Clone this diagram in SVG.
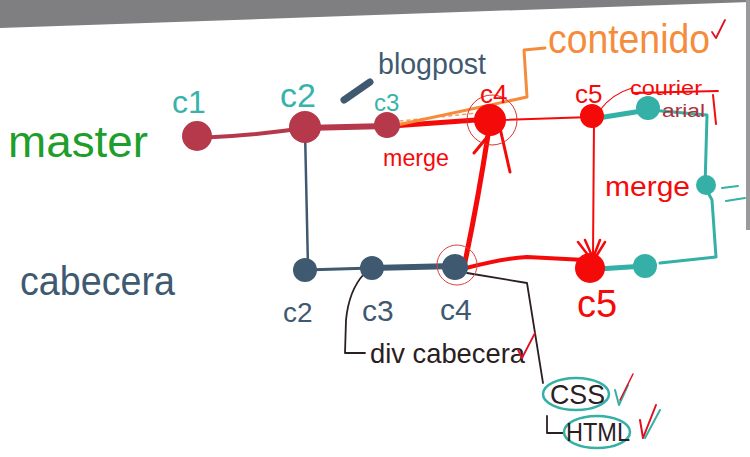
<svg xmlns="http://www.w3.org/2000/svg" width="750" height="457" viewBox="0 0 750 457">
<defs>
<style>
text{font-family:"Liberation Sans","DejaVu Sans",sans-serif}
.red{fill:#f50a0a}.teal{fill:#35b0a6}.slate{fill:#3f5a70}.maroon{fill:#b5394a}.ink{fill:#2a2022}
.lt{fill:#38b3aa}
.ln{fill:none;stroke-linecap:round;stroke-linejoin:round}
</style>
</defs>
<rect width="750" height="457" fill="#ffffff"/>
<polygon points="0,0 750,0 750,2 0,28" fill="#7f7e80"/>
<rect x="746" y="0" width="4" height="230" fill="#9a999b"/>

<g id="connectors">
  <path class="ln" d="M197,138 Q250,136 305,128" stroke="#b5394a" stroke-width="4"/>
  <path class="ln" d="M305,128 L387,126" stroke="#b5394a" stroke-width="6"/>
  <path class="ln" d="M305,130 L308,268" stroke="#3f5a70" stroke-width="2.5"/>
  <path class="ln" d="M305,270 L372,268" stroke="#3f5a70" stroke-width="3"/>
  <path class="ln" d="M372,268 L455,266" stroke="#3f5a70" stroke-width="6"/>
  <path class="ln" d="M392,126 L490,119" stroke="#f50a0a" stroke-width="5"/>
  <path class="ln" d="M400,121 L478,113" stroke="#f3a060" stroke-width="1.5" stroke-dasharray="3 4"/>
  <path class="ln" d="M397,125 L527,97 L524,50 L545,48" stroke="#f58c3c" stroke-width="3"/>
  <path class="ln" d="M500,120 L592,117" stroke="#f50a0a" stroke-width="2"/>
  <path class="ln" d="M594,120 L593,258" stroke="#f50a0a" stroke-width="2"/>
  <path class="ln" d="M593,258 L585,240 M593,258 L600,240 M588,255 L578,242 M597,255 L605,242" stroke="#f50a0a" stroke-width="2.5"/>
  <path class="ln" d="M465,262 Q478,200 488,135" stroke="#f50a0a" stroke-width="5"/>
  <path class="ln" d="M500,128 L510,172 M488,136 L474,153" stroke="#f50a0a" stroke-width="3"/>
  <path class="ln" d="M466,268 Q505,258 527,257 L585,260" stroke="#f50a0a" stroke-width="4"/>
  <path class="ln" d="M600,110 Q612,94 632,88" stroke="#f50a0a" stroke-width="1.2"/>
  <path class="ln" d="M598,118 L648,110" stroke="#35b0a6" stroke-width="5"/>
  <path class="ln" d="M650,110 L707,115 L705,187 L712,200 L716,257 L660,263" stroke="#35b0a6" stroke-width="3"/>
  <path class="ln" d="M598,269 L645,266" stroke="#35b0a6" stroke-width="5"/>
  <path class="ln" d="M722,188 L738,186 M726,201 L745,198" stroke="#35b0a6" stroke-width="2"/>
  <path class="ln" d="M344,100 L370,82" stroke="#3f5a70" stroke-width="7"/>
  <path class="ln" d="M364,274 Q349,290 346,320 L345,353 L365,353" stroke="#2a2022" stroke-width="1.8"/>
  <path class="ln" d="M467,273 L527,283 L543,383" stroke="#2a2022" stroke-width="1.8"/>
  <path class="ln" d="M547,416 L547,433 L563,433" stroke="#2a2022" stroke-width="1.8"/>
</g>

<g id="master-label"><text x="8" y="157" font-size="44" fill="#1e9e2a" textLength="140" lengthAdjust="spacingAndGlyphs">master</text></g>
<g id="cabecera-label"><text x="20" y="295" font-size="40" class="slate" textLength="155" lengthAdjust="spacingAndGlyphs">cabecera</text></g>

<g id="m-c1"><circle cx="197" cy="136" r="15" class="maroon"/><text x="172" y="113" font-size="32" class="lt">c1</text></g>
<g id="m-c2"><circle cx="305" cy="127" r="16" class="maroon"/><text x="280" y="107" font-size="34" class="lt">c2</text></g>
<g id="m-c3"><circle cx="387" cy="125" r="13" class="maroon"/><text x="374" y="111" font-size="24" class="lt">c3</text></g>
<g id="m-c4"><circle cx="490" cy="120" r="16" class="red"/><circle cx="492" cy="120" r="25" fill="none" stroke="#e03030" stroke-width="1"/><text x="480" y="103" font-size="26" class="red">c4</text></g>
<g id="m-c5"><circle cx="592" cy="116" r="12" class="red"/><text x="575" y="103" font-size="26" class="red">c5</text></g>

<g id="t-1"><circle cx="648" cy="108" r="12" class="teal"/></g>
<g id="t-2"><circle cx="706" cy="185" r="10" class="teal"/></g>
<g id="t-3"><circle cx="645" cy="266" r="12" class="teal"/></g>

<g id="c-c2"><circle cx="305" cy="270" r="12" class="slate"/><text x="283" y="322" font-size="28" class="slate">c2</text></g>
<g id="c-c3"><circle cx="372" cy="268" r="12" class="slate"/><text x="362" y="321" font-size="30" class="slate">c3</text></g>
<g id="c-c4"><circle cx="455" cy="267" r="13" class="slate"/><circle cx="457" cy="265" r="20" fill="none" stroke="#e04040" stroke-width="1"/><text x="440" y="320" font-size="30" class="slate">c4</text></g>
<g id="c-c5"><circle cx="590" cy="268" r="15" class="red"/><text x="577" y="317" font-size="38" class="red">c5</text></g>

<g id="blogpost"><text x="378" y="74" font-size="30" class="slate" textLength="108" lengthAdjust="spacingAndGlyphs">blogpost</text></g>
<g id="contenido"><text x="548" y="53" font-size="40" fill="#f58c3c" textLength="162" lengthAdjust="spacingAndGlyphs">contenido</text>
<path class="ln" d="M712,32 L716,38 L725,20" stroke="#e01020" stroke-width="1.8"/></g>
<g id="merge1"><text x="383" y="166" font-size="24" class="red" textLength="66" lengthAdjust="spacingAndGlyphs">merge</text></g>
<g id="merge2"><text x="605" y="196" font-size="28" class="red" textLength="85" lengthAdjust="spacingAndGlyphs">merge</text></g>
<g id="courier"><text x="630" y="95" font-size="20" class="red" textLength="72" lengthAdjust="spacingAndGlyphs">courier</text>
<path class="ln" d="M633,93 L718,91" stroke="#f50a0a" stroke-width="1.8"/>
<text x="662" y="117" font-size="18" fill="#b0303a" textLength="43" lengthAdjust="spacingAndGlyphs">arial</text>
<path class="ln" d="M713,95 L716,124" stroke="#f50a0a" stroke-width="2"/></g>
<g id="div-cabecera"><text x="370" y="363" font-size="28" class="ink" textLength="155" lengthAdjust="spacingAndGlyphs">div cabecera</text>
<path class="ln" d="M518,350 L522,358 L535,333" stroke="#e01020" stroke-width="1.8"/></g>
<g id="css"><ellipse cx="576" cy="394" rx="33" ry="16" fill="none" stroke="#35b0a6" stroke-width="2.5"/>
<text x="550" y="404" font-size="28" class="ink" textLength="55" lengthAdjust="spacingAndGlyphs">CSS</text>
<path class="ln" d="M615,390 L619,405 L628,385" stroke="#35b0a6" stroke-width="2"/>
<path class="ln" d="M620,400 L633,374" stroke="#e01020" stroke-width="1.5"/></g>
<g id="html"><ellipse cx="597" cy="432" rx="33" ry="16" fill="none" stroke="#35b0a6" stroke-width="2.5"/>
<text x="566" y="441" font-size="26" class="ink" textLength="64" lengthAdjust="spacingAndGlyphs">HTML</text>
<path class="ln" d="M640,420 L643,438 L656,405" stroke="#e01020" stroke-width="2"/>
<path class="ln" d="M645,438 L660,410" stroke="#35b0a6" stroke-width="2"/></g>
</svg>
